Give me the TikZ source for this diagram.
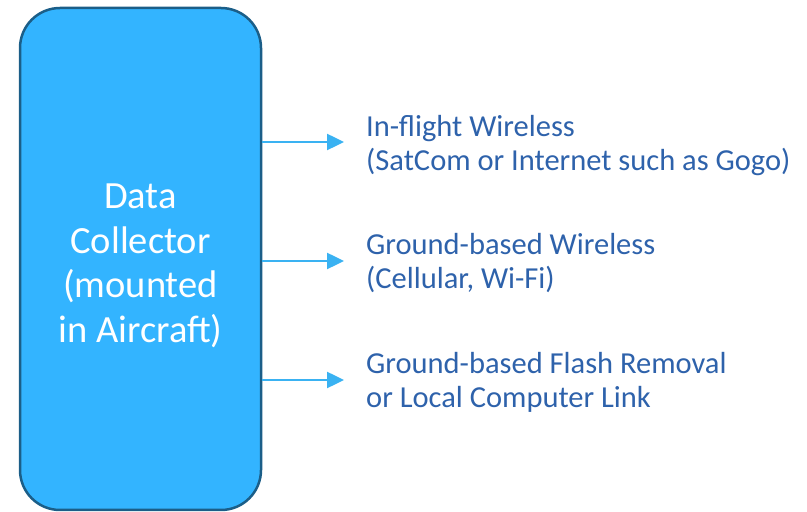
\documentclass[tikz,border=0pt]{standalone}
\usepackage{fontspec}
\setmainfont{Carlito}
\usetikzlibrary{arrows.meta}
\definecolor{boxfill}{HTML}{33B4FF}
\definecolor{boxedge}{HTML}{1B5E88}
\definecolor{linkblue}{HTML}{3AB2F2}
\definecolor{labelblue}{HTML}{2E62AB}
\tikzset{
  collector/.style={draw=boxedge, line width=2.5pt, fill=boxfill, rounded corners=40pt,
    minimum width=241pt, minimum height=502pt, inner sep=0pt},
  collectortext/.style={text=white, align=center, inner sep=0pt,
    font=\fontsize{38.5}{44.5}\selectfont},
  link/.style={draw=linkblue, line width=2.5pt, -{Triangle[length=17pt,width=16pt]}},
  channel/.style={anchor=base west, text=labelblue, align=left, inner sep=0pt,
    font=\fontsize{30.5}{34}\selectfont}
}
\begin{document}
\begin{tikzpicture}[x=1pt,y=1pt]
  \useasboundingbox (0,0) rectangle (807,512);
  % data collector box
  \node[collector] (dc) at (140.5,253) {};
  \node[collectortext] (dct) at (140.5,246) {Data\\Collector\\(mounted\\in Aircraft)};
  % link end points
  \coordinate (e1) at (344,370);
  \coordinate (e2) at (344,251);
  \coordinate (e3) at (344,132);
  \draw[link] (dc.east |- e1) -- (e1);
  \draw[link] (dc.east |- e2) -- (e2);
  \draw[link] (dc.east |- e3) -- (e3);
  % channel descriptions (base = baseline of the second line)
  \node[channel] (c1) at (366,341) {In-flight Wireless\\(SatCom or Internet such as Gogo)};
  \node[channel] (c2) at (366,223) {Ground-based Wireless\\(Cellular, Wi-Fi)};
  \node[channel] (c3) at (366,104) {Ground-based Flash Removal\\or Local Computer Link};
\end{tikzpicture}
\end{document}
